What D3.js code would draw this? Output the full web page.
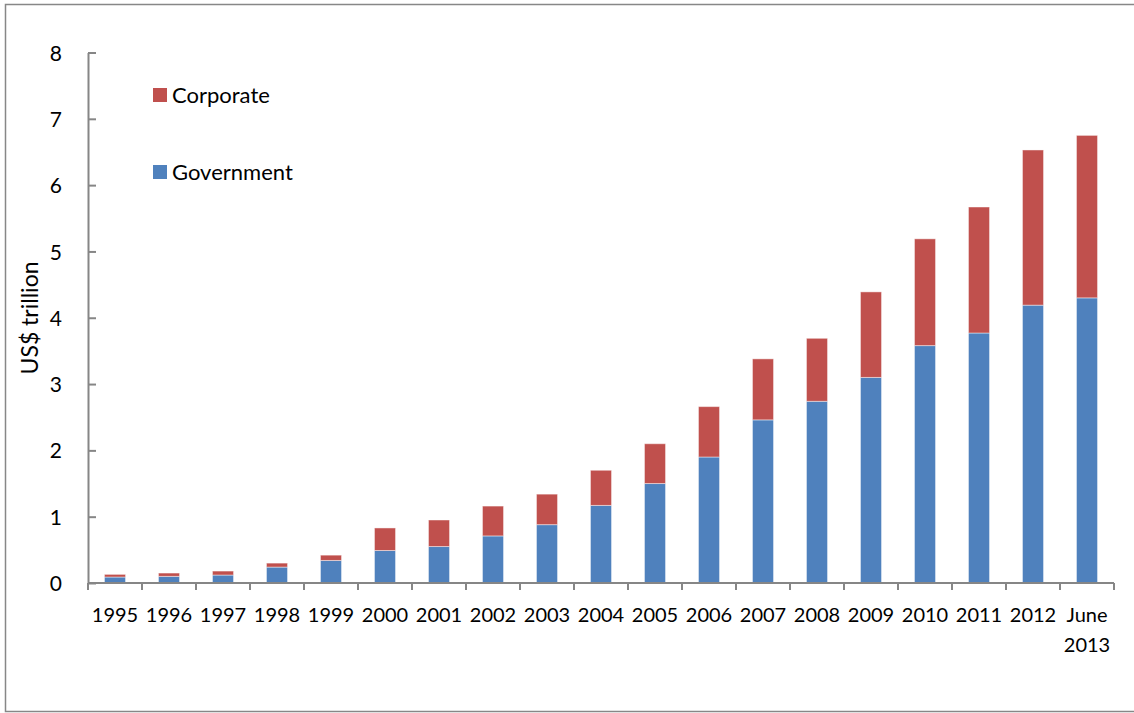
<!DOCTYPE html>
<html>
<head>
<meta charset="utf-8">
<script src="https://cdn.jsdelivr.net/npm/d3@7"></script>
<style>
  body { margin: 0; background: #fff; }
  text { font-family: Lato, "Open Sans", sans-serif; fill: #000; }
  .axis path, .axis line { stroke: #868686; }
</style>
</head>
<body>
<div class="chart"></div>
<script>
// data, US$ trillion
const years = ['1995', '1996', '1997', '1998', '1999', '2000', '2001', '2002', '2003', '2004',
  '2005', '2006', '2007', '2008', '2009', '2010', '2011', '2012', 'June\n2013'];
const government = [0.09, 0.10, 0.12, 0.24, 0.34, 0.49, 0.55, 0.71, 0.88, 1.17,
  1.50, 1.90, 2.46, 2.74, 3.10, 3.58, 3.77, 4.19, 4.30];
const corporate = [0.04, 0.05, 0.06, 0.06, 0.08, 0.34, 0.40, 0.45, 0.46, 0.53,
  0.60, 0.76, 0.92, 0.95, 1.29, 1.61, 1.90, 2.34, 2.45];
const yTicks = [0, 1, 2, 3, 4, 5, 6, 7, 8];
const seriesNames = ['Government', 'Corporate'];
const colors = { Government: '#4F81BD', Corporate: '#C0504D' };

const W = 1134, H = 713;
const margin = { top: 52.5, right: 20, bottom: 130, left: 88 };
const width = 1114 - margin.left;
const height = 583 - margin.top;

let rows = years.map(function (y, i) {
  return { year: y, Government: government[i], Corporate: corporate[i] };
});

let svg = d3.select('.chart').append('svg')
  .attr('width', W)
  .attr('height', H);

// outer chart border
svg.append('rect')
  .attr('x', 5.5).attr('y', 4.5)
  .attr('width', 1140).attr('height', 707)
  .attr('fill', 'none')
  .attr('stroke', '#878787')
  .attr('stroke-width', 1.5);

let g = svg.append('g').attr('transform', 'translate(' + margin.left + ',' + margin.top + ')');

let x = d3.scaleBand().domain(years).range([0, width]).paddingInner(0.61).paddingOuter(0.305);
let y = d3.scaleLinear().domain([0, 8]).range([height, 0]);

let stack = d3.stack().keys(seriesNames);
let layers = stack(rows);

g.selectAll('.layer')
  .data(layers)
  .enter().append('g')
  .attr('class', 'layer')
  .attr('fill', function (d) { return colors[d.key]; })
  .selectAll('rect')
  .data(function (d) { return d; })
  .enter().append('rect')
  .attr('x', function (d) { return x(d.data.year); })
  .attr('width', x.bandwidth())
  .attr('y', function (d) { return y(d[1]); })
  .attr('height', function (d) { return y(d[0]) - y(d[1]); })
  .attr('stroke', 'rgba(255,255,255,0.45)')
  .attr('stroke-width', 1);

// y axis, ticks pointing inward
let yAxis = d3.axisLeft(y).tickValues(yTicks).tickSize(-8).tickSizeOuter(0).tickPadding(26);
let yg = g.append('g').attr('class', 'axis y').call(yAxis);
yg.selectAll('path, line').attr('stroke-width', 2);
yg.selectAll('text').style('font-size', '21px').attr('dy', '0.36em');

// x axis baseline and category boundary ticks
let xg = g.append('g').attr('class', 'axis x').attr('transform', 'translate(0,' + height + ')');
xg.append('line')
  .attr('x1', 0).attr('x2', width)
  .attr('stroke-width', 2);
let step = x.step();
let bounds = years.map(function (yr) { return x(yr) + x.bandwidth() / 2 - step / 2; });
bounds.push(width);
xg.selectAll('.tick-mark')
  .data(bounds)
  .enter().append('line')
  .attr('class', 'tick-mark')
  .attr('x1', function (d) { return d; })
  .attr('x2', function (d) { return d; })
  .attr('y1', 0).attr('y2', 7)
  .attr('stroke-width', 2);

let labels = xg.selectAll('.xlabel')
  .data(years)
  .enter().append('text')
  .attr('class', 'xlabel')
  .attr('text-anchor', 'middle')
  .style('font-size', '20px')
  .attr('transform', function (d) { return 'translate(' + (x(d) + x.bandwidth() / 2) + ',39)'; });
labels.selectAll('tspan')
  .data(function (d) { return d.split('\n'); })
  .enter().append('tspan')
  .attr('x', 0)
  .attr('y', function (d, i) { return i * 30; })
  .text(function (d) { return d; });

// y axis title
svg.append('text')
  .attr('transform', 'translate(38,318) rotate(-90)')
  .attr('text-anchor', 'middle')
  .style('font-size', '23px')
  .text('US$ trillion');

// legend
let legendItems = ['Corporate', 'Government'];
let legend = svg.selectAll('.legend')
  .data(legendItems)
  .enter().append('g')
  .attr('class', 'legend')
  .attr('transform', function (d, i) { return 'translate(153,' + (88 + i * 77) + ')'; });
legend.append('rect')
  .attr('width', 14).attr('height', 14)
  .attr('fill', function (d) { return colors[d]; });
legend.append('text')
  .attr('x', 19).attr('y', 14.5)
  .style('font-size', '22px')
  .text(function (d) { return d; });
</script>
</body>
</html>
